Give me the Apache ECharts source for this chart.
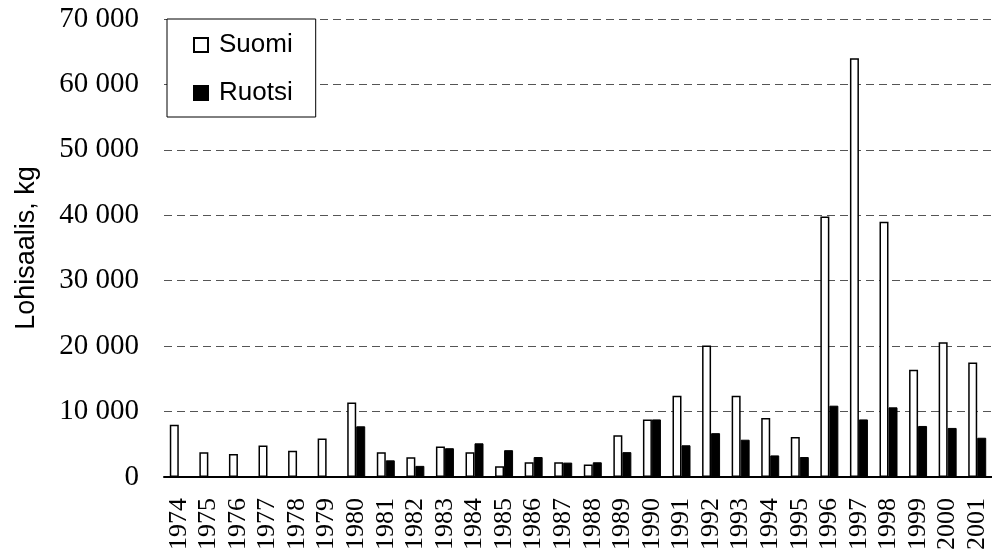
<!DOCTYPE html>
<html>
<head>
<meta charset="utf-8">
<script src="https://cdn.jsdelivr.net/npm/echarts@6/dist/echarts.min.js"></script>
<style>
html,body{margin:0;padding:0;background:#fff;}
#main{width:992px;height:551px;}
</style>
</head>
<body>
<div id="main"></div>
<script>
var years = ['1974','1975','1976','1977','1978','1979','1980','1981','1982','1983','1984','1985','1986','1987',
             '1988','1989','1990','1991','1992','1993','1994','1995','1996','1997','1998','1999','2000','2001'];
var suomi = [8000, 3800, 3500, 4800, 4000, 5900, 11400, 3800, 3000, 4650, 3800, 1650, 2250, 2250,
             1900, 6400, 8800, 12400, 20100, 12400, 9000, 6100, 39800, 64000, 39000, 16400, 20600, 17500];
var ruotsi = [null, null, null, null, null, null, 7750, 2550, 1700, 4400, 5150, 4100, 3050, 2200,
              2250, 3800, 8800, 4850, 6700, 5700, 3300, 3050, 10900, 8800, 10650, 7800, 7500, 6000];

var myChart = echarts.init(document.getElementById('main'));

var option = {
    animation: false,
    grid: {left: 164, right: 0, top: 19, bottom: 74, containLabel: false, outerBoundsMode: 'none'},
    legend: {
        orient: 'vertical',
        left: 167,
        top: 19,
        padding: [11, 23, 9, 26],
        itemGap: 18,
        itemWidth: 14,
        itemHeight: 14,
        icon: 'rect',
        backgroundColor: '#fff',
        borderColor: '#000',
        borderWidth: 1,
        textStyle: {fontFamily: 'Liberation Sans', fontSize: 26, color: '#000', lineHeight: 30, padding: [0, 0, 0, 6]},
        data: ['Suomi', 'Ruotsi']
    },
    xAxis: {
        type: 'category',
        data: years,
        axisLine: {lineStyle: {color: '#000', width: 2}},
        axisTick: {show: false},
        axisLabel: {rotate: 90, margin: 21, interval: 0, fontFamily: 'Liberation Serif', fontSize: 26, color: '#000'}
    },
    yAxis: {
        type: 'value',
        min: 0,
        max: 70000,
        interval: 10000,
        name: 'Lohisaalis, kg',
        nameLocation: 'middle',
        nameGap: 124,
        nameTextStyle: {fontFamily: 'Liberation Sans', fontSize: 27, color: '#000'},
        axisLine: {show: false},
        axisTick: {show: false},
        axisLabel: {
            margin: 25,
            fontFamily: 'Liberation Serif', fontSize: 29, color: '#000',
            formatter: function (v) { return String(v).replace(/\B(?=(\d{3})+(?!\d))/g, ' '); }
        },
        splitLine: {lineStyle: {color: '#555', width: 1, type: [8, 5]}}
    },
    series: [
        {
            name: 'Suomi',
            type: 'bar',
            data: suomi,
            barWidth: 9,
            barGap: '0%',
            itemStyle: {color: '#fff', borderColor: '#000', borderWidth: 1.5}
        },
        {
            name: 'Ruotsi',
            type: 'bar',
            data: ruotsi,
            barWidth: 9,
            barGap: '0%',
            itemStyle: {color: '#000', borderColor: '#000', borderWidth: 1}
        }
    ]
};

myChart.setOption(option);
</script>
</body>
</html>
